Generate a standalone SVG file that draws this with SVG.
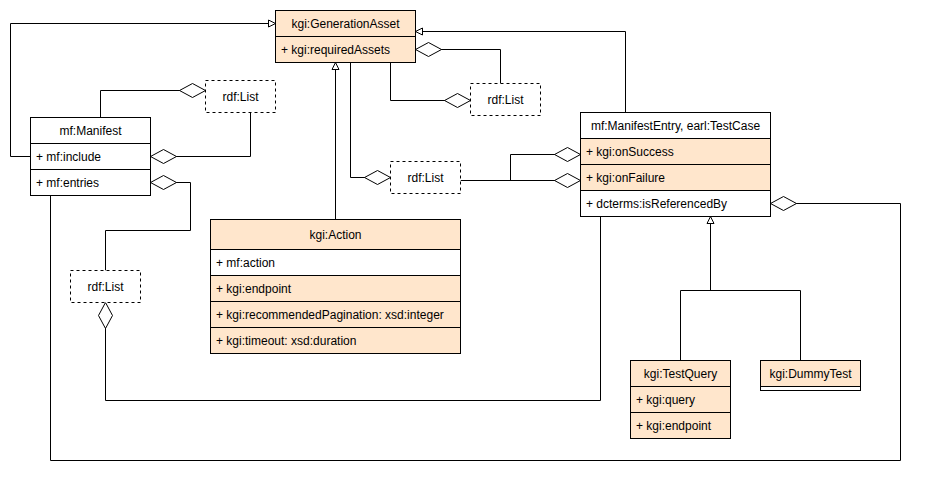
<svg xmlns="http://www.w3.org/2000/svg" width="927" height="487" viewBox="0 0 927 487">
<style>
  .box { stroke:#000; stroke-width:1; }
  .org { fill:#FFE6CC; }
  .wht { fill:#FFFFFF; }
  .dash { fill:#FFFFFF; stroke:#000; stroke-width:1; stroke-dasharray:3 3; }
  .ln { fill:none; stroke:#000; stroke-width:1; }
  text { font-family:"Liberation Sans", Arial, sans-serif; font-size:12px; fill:#000; }
  .c { text-anchor:middle; }
  .agg { marker-start:url(#dia); }
  .gen { marker-end:url(#tri); }
</style>
<defs>
  <marker id="dia" markerUnits="userSpaceOnUse" orient="auto" overflow="visible" markerWidth="30" markerHeight="16" refX="0" refY="0">
    <path d="M0,0 L13,-7 L26,0 L13,7 Z" fill="#fff" stroke="#000" stroke-width="1"/>
  </marker>
  <marker id="tri" markerUnits="userSpaceOnUse" orient="auto" overflow="visible" markerWidth="10" markerHeight="10" refX="7" refY="0">
    <path d="M0,-3.5 L7,0 L0,3.5 Z" fill="#fff" stroke="#000" stroke-width="1"/>
  </marker>
</defs>
<rect x="0" y="0" width="927" height="487" fill="#fff"/>

<g id="connectors">
  <path class="ln gen" d="M30.5,156.5 H10.5 V23.5 H275.5"/>
  <path class="ln agg" d="M205.5,90.5 H100.5 V117.5"/>
  <path class="ln agg" d="M150.5,156.5 H250.5 V112.5"/>
  <path class="ln agg" d="M150.5,182.5 H190.5 V230.5 H105.5 V270.5"/>
  <path class="ln agg" d="M105.5,302.5 V400.5 H600.5 V216.5"/>
  <path class="ln agg" d="M770.5,203.5 H900.5 V460.5 H50.5 V195.5"/>
  <path class="ln gen" d="M625.5,112.5 V31.5 H415.5"/>
  <path class="ln gen" d="M335.5,219.5 V62.5"/>
  <path class="ln agg" d="M390.5,177.5 H350.5 V62.5"/>
  <path class="ln agg" d="M470.5,100.5 H390.5 V62.5"/>
  <path class="ln agg" d="M415.5,49.5 H500.5 V83.5"/>
  <path class="ln agg" d="M580.5,180.5 H460.5"/>
  <path class="ln agg" d="M580.5,154.5 H510.5 V180.5"/>
  <path class="ln" d="M680.5,360.5 V290.5 H800.5 V360.5"/>
  <path class="ln gen" d="M710.5,290.5 V216.5"/>
</g>

<g id="GenerationAsset">
  <rect class="box org" x="275.5" y="10.5" width="140" height="52"/>
  <line class="ln" x1="275.5" y1="36.5" x2="415.5" y2="36.5"/>
  <text class="c" x="345.5" y="27.5">kgi:GenerationAsset</text>
  <text x="281" y="53.5">+ kgi:requiredAssets</text>
</g>

<g id="Manifest">
  <rect class="box wht" x="30.5" y="117.5" width="120" height="78"/>
  <line class="ln" x1="30.5" y1="143.5" x2="150.5" y2="143.5"/>
  <line class="ln" x1="30.5" y1="169.5" x2="150.5" y2="169.5"/>
  <text class="c" x="90.5" y="134.5">mf:Manifest</text>
  <text x="36" y="160.5">+ mf:include</text>
  <text x="36" y="186.5">+ mf:entries</text>
</g>

<g id="List1">
  <rect class="dash" x="205.5" y="80.5" width="70" height="32"/>
  <text class="c" x="240.5" y="100.5">rdf:List</text>
</g>
<g id="List2">
  <rect class="dash" x="470.5" y="83.5" width="70" height="32"/>
  <text class="c" x="505.5" y="103.5">rdf:List</text>
</g>
<g id="List3">
  <rect class="dash" x="390.5" y="161.5" width="70" height="32"/>
  <text class="c" x="425.5" y="181.5">rdf:List</text>
</g>
<g id="List4">
  <rect class="dash" x="70.5" y="270.5" width="70" height="32"/>
  <text class="c" x="105.5" y="290.5">rdf:List</text>
</g>

<g id="ManifestEntry">
  <rect class="box wht" x="580.5" y="112.5" width="190" height="104"/>
  <rect class="org" x="581" y="138.5" width="189" height="52"/>
  <line class="ln" x1="580.5" y1="138.5" x2="770.5" y2="138.5"/>
  <line class="ln" x1="580.5" y1="164.5" x2="770.5" y2="164.5"/>
  <line class="ln" x1="580.5" y1="190.5" x2="770.5" y2="190.5"/>
  <rect class="ln" x="580.5" y="112.5" width="190" height="104"/>
  <text class="c" x="675.5" y="129.5">mf:ManifestEntry, earl:TestCase</text>
  <text x="586" y="155.5">+ kgi:onSuccess</text>
  <text x="586" y="181.5">+ kgi:onFailure</text>
  <text x="586" y="207.5">+ dcterms:isReferencedBy</text>
</g>

<g id="Action">
  <rect class="box org" x="210.5" y="219.5" width="250" height="134"/>
  <rect class="wht" x="211" y="249.5" width="249" height="26"/>
  <line class="ln" x1="210.5" y1="249.5" x2="460.5" y2="249.5"/>
  <line class="ln" x1="210.5" y1="275.5" x2="460.5" y2="275.5"/>
  <line class="ln" x1="210.5" y1="301.5" x2="460.5" y2="301.5"/>
  <line class="ln" x1="210.5" y1="327.5" x2="460.5" y2="327.5"/>
  <text class="c" x="335.5" y="238.5">kgi:Action</text>
  <text x="216" y="266.5">+ mf:action</text>
  <text x="216" y="292.5">+ kgi:endpoint</text>
  <text x="216" y="318.5">+ kgi:recommendedPagination: xsd:integer</text>
  <text x="216" y="344.5">+ kgi:timeout: xsd:duration</text>
</g>

<g id="TestQuery">
  <rect class="box org" x="630.5" y="360.5" width="100" height="78"/>
  <line class="ln" x1="630.5" y1="386.5" x2="730.5" y2="386.5"/>
  <line class="ln" x1="630.5" y1="412.5" x2="730.5" y2="412.5"/>
  <text class="c" x="680.5" y="377.5">kgi:TestQuery</text>
  <text x="636" y="403.5">+ kgi:query</text>
  <text x="636" y="429.5">+ kgi:endpoint</text>
</g>

<g id="DummyTest">
  <rect class="box org" x="760.5" y="360.5" width="100" height="30"/>
  <rect class="wht" x="761" y="387" width="99" height="3"/>
  <line class="ln" x1="760.5" y1="386.5" x2="860.5" y2="386.5"/>
  <text class="c" x="810.5" y="377.5">kgi:DummyTest</text>
</g>
</svg>
